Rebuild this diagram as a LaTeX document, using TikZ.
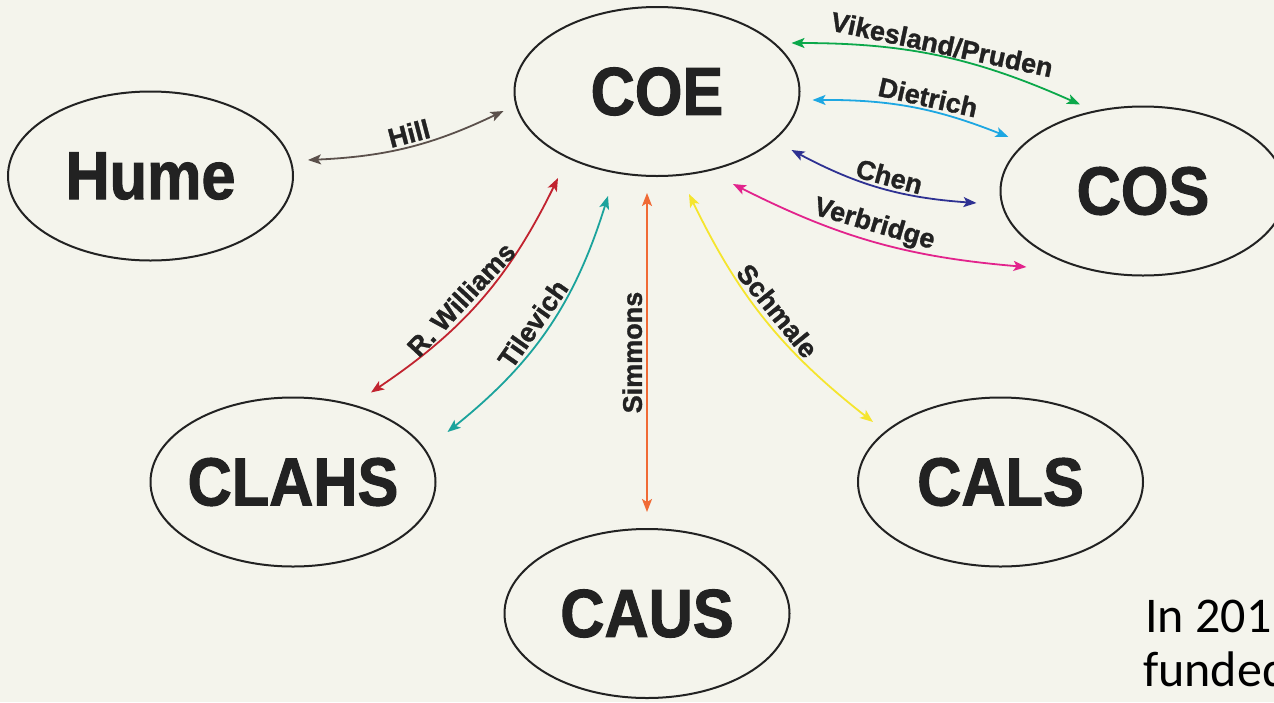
\documentclass[tikz,border=0pt]{standalone}
\usepackage{fontspec}
\setmainfont{Liberation Sans}[BoldFeatures={FakeBold=1.2}]
\newfontfamily\headfont{Liberation Sans}[FakeStretch=0.9,BoldFeatures={FakeBold=1.5}]
\newfontfamily\notefont{Carlito}
\usetikzlibrary{shapes.geometric,arrows.meta}

\definecolor{paper}{HTML}{F4F4EC}
\definecolor{ink}{HTML}{222222}
\definecolor{hillc}{HTML}{5B504B}
\definecolor{vpc}{HTML}{0BA84A}
\definecolor{dietc}{HTML}{1DA7E2}
\definecolor{chenc}{HTML}{2E3192}
\definecolor{verbc}{HTML}{E2238C}
\definecolor{rwc}{HTML}{C1232F}
\definecolor{tilc}{HTML}{1BA39C}
\definecolor{simc}{HTML}{F06A35}
\definecolor{schc}{HTML}{F5E52E}

\begin{document}
\begin{tikzpicture}[x=1pt,y=1pt,
  college/.style={draw=ink, line width=2pt, ellipse, minimum width=285pt,
    minimum height=169pt, inner sep=0pt},
  collegename/.style={font={\headfont\bfseries\fontsize{68}{70}\selectfont},
    text=ink, inner sep=0pt},
  tip/.tip={Stealth[length=13pt,width=10pt,inset=3pt]},
  link/.style={line width=1.8pt, tip-tip},
  who/.style={font={\bfseries\fontsize{27}{29}\selectfont}, text=ink,
    sloped, above, inner sep=2.5pt},
  note/.style={font={\notefont\fontsize{50}{54}\selectfont}, text=black,
    inner sep=0pt, anchor=base west},
]
\useasboundingbox (0,0) rectangle (1274,-702);
\clip (0,0) rectangle (1274,-702);
\fill[paper] (0,0) rectangle (1274,-702);

% colleges
\node[college, label={[collegename]center:COE}]   (coe)   at (657,-91.5)  {};
\node[college, label={[collegename]center:Hume}]  (hume)  at (150.5,-176) {};
\node[college, label={[collegename]center:COS}]   (cos)   at (1143,-191)  {};
\node[college, label={[collegename]center:CLAHS}] (clahs) at (293,-482)   {};
\node[college, label={[collegename]center:CAUS}]  (caus)  at (647,-613.5) {};
\node[college, label={[collegename]center:CALS}]  (cals)  at (1000.5,-482) {};

% connector ends, just off each ellipse
\coordinate (hill-a) at ([shift={(14,16)}]hume.east);
\coordinate (hill-b) at ([shift={(-10,-19.5)}]coe.west);
\coordinate (vp-a)   at ([shift={(-9,48.5)}]coe.east);
\coordinate (vp-b)   at ([shift={(-63,1)}]cos.north);
\coordinate (di-a)   at ([shift={(12,-8.5)}]coe.east);
\coordinate (di-b)   at ([shift={(9,54)}]cos.west);
\coordinate (ch-a)   at ([shift={(-9,-58.5)}]coe.east);
\coordinate (ch-b)   at ([shift={(-23,-12)}]cos.west);
\coordinate (vb-a)   at ([shift={(76,-7)}]coe.south);
\coordinate (vb-b)   at ([shift={(27,-76)}]cos.west);
\coordinate (rw-a)   at ([shift={(-99,-1)}]coe.south);
\coordinate (rw-b)   at ([shift={(78,4)}]clahs.north);
\coordinate (ti-a)   at ([shift={(-49,-19)}]coe.south);
\coordinate (ti-b)   at ([shift={(11,50)}]clahs.east);
\coordinate (si-a)   at ([shift={(-10,-16)}]coe.south);
\coordinate (si-b)   at ([shift={(0,16)}]caus.north);
\coordinate (sc-a)   at ([shift={(32,-17)}]coe.south);
\coordinate (sc-b)   at ([shift={(16,60)}]cals.west);

% collaborations
\draw[link, hillc] (hill-a) to[bend right=11.5] node[who, pos=0.52] {Hill} (hill-b);
\draw[link, vpc]   (vp-a) to[bend left=12]  node[who, pos=0.5, inner sep=1pt] {Vikesland/Pruden} (vp-b);
\draw[link, dietc] (di-a) to[bend left=11]  node[who, pos=0.57] {Dietrich} (di-b);
\draw[link, chenc] (ch-a) to[bend right=12] node[who, pos=0.53] {Chen} (ch-b);
\draw[link, verbc] (vb-a) to[bend right=11] node[who, pos=0.48] {Verbridge} (vb-b);
\draw[link, rwc]   (rw-a) to[bend left=15]  node[who, pos=0.55, inner sep=4pt] {R. Williams} (rw-b);
\draw[link, tilc]  (ti-a) to[bend left=17]  node[who, pos=0.52, inner sep=4pt] {Tilevich} (ti-b);
\draw[link, simc]  (si-b) -- node[who, pos=0.5, inner sep=4pt] {Simmons} (si-a);
\draw[link, schc]  (sc-a) to[bend right=13] node[who, pos=0.5, inner sep=4pt] {Schmale} (sc-b);

% side text
\node[note] (note-a) at (1145,-632) {In 201};
\node[note] (note-b) at (1143,-686) {funded};
\end{tikzpicture}
\end{document}
